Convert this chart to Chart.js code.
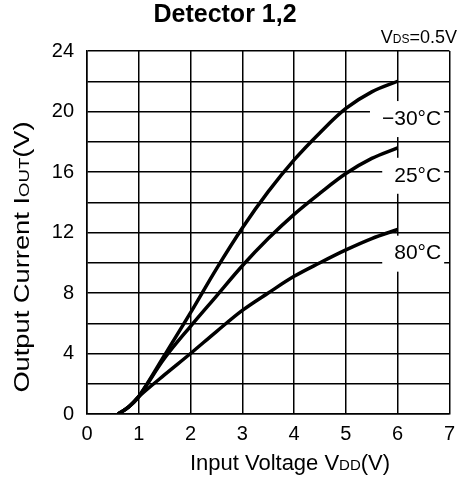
<!DOCTYPE html>
<html>
<head>
<meta charset="utf-8">
<script src="https://cdn.jsdelivr.net/npm/chart.js@4"></script>
<style>
    html, body { margin: 0; padding: 0; background: #fff; }
</style>
</head>
<body>
<canvas id="chart" width="463" height="483"></canvas>
<script>
(function () {
    'use strict';

    // input voltage VDD (V)
    var vdd = [0.6, 0.8, 1.0, 1.5, 2, 2.5, 3, 3.5, 4, 4.5, 5, 5.5, 6];
    // output current per temperature
    var iMinus30 = [0, 0.45, 1.15, 3.9, 6.7, 9.6, 12.3, 14.7, 16.8, 18.6, 20.2, 21.3, 22.0];
    var i25 = [0, 0.45, 1.15, 3.7, 5.8, 7.8, 9.8, 11.6, 13.2, 14.6, 15.9, 16.9, 17.6];
    var i80 = [0, 0.45, 1.15, 2.6, 4.0, 5.45, 6.85, 8.0, 9.1, 10.0, 10.85, 11.6, 12.2];

    var curveNames = ['\u221230\u00b0C', '25\u00b0C', '80\u00b0C'];
    var curveValues = [iMinus30, i25, i80];
    var xTicks = [0, 1, 2, 3, 4, 5, 6, 7];
    var yTicks = [0, 4, 8, 12, 16, 20, 24];

    // where each temperature label sits (right edge x, middle y), in axis units
    var labelAnchors = [[6.84, 19.5], [6.84, 15.75], [6.84, 10.6]];

    var FONT = "'Liberation Sans', Arial, sans-serif";

    function points(ys) {
        return vdd.map(function (x, i) {
            return { x: x, y: ys[i] };
        });
    }

    function drawRich(ctx, parts, x, y, align) {
        var total = 0;
        parts.forEach(function (p) {
            ctx.font = p.size + 'px ' + FONT;
            p.w = ctx.measureText(p.t).width;
            total += p.w;
        });
        var cx = x;
        if (align === 'center') cx = x - total / 2;
        if (align === 'right') cx = x - total;
        ctx.textAlign = 'left';
        parts.forEach(function (p) {
            ctx.font = p.size + 'px ' + FONT;
            ctx.fillText(p.t, cx, y);
            cx += p.w;
        });
    }

    var labelBoxes = {
        id: 'labelBoxes',
        beforeDatasetsDraw: function (chart) {
            var ctx = chart.ctx;
            var xs = chart.scales.x;
            var ys = chart.scales.y;
            ctx.save();
            ctx.font = '21px ' + FONT;
            curveNames.forEach(function (name, i) {
                var right = xs.getPixelForValue(labelAnchors[i][0]);
                var mid = ys.getPixelForValue(labelAnchors[i][1]);
                var w = ctx.measureText(name).width;
                ctx.fillStyle = '#fff';
                ctx.fillRect(right - w - 12, mid - 18, w + 15, 36);
            });
            ctx.restore();
        },
        afterDatasetsDraw: function (chart) {
            var ctx = chart.ctx;
            var xs = chart.scales.x;
            var ys = chart.scales.y;
            ctx.save();
            ctx.fillStyle = '#000';
            ctx.font = '21px ' + FONT;
            ctx.textAlign = 'right';
            ctx.textBaseline = 'middle';
            curveNames.forEach(function (name, i) {
                ctx.fillText(name, xs.getPixelForValue(labelAnchors[i][0]), ys.getPixelForValue(labelAnchors[i][1]));
            });
            ctx.restore();
        }
    };

    var texts = {
        id: 'texts',
        afterDraw: function (chart) {
            var ctx = chart.ctx;
            ctx.save();
            ctx.fillStyle = '#000';
            ctx.textBaseline = 'alphabetic';

            ctx.font = 'bold 25px ' + FONT;
            ctx.textAlign = 'center';
            ctx.fillText('Detector 1,2', 225, 22);

            drawRich(ctx, [
                { t: 'V', size: 18 }, { t: 'DS', size: 12 }, { t: '=0.5V', size: 18 }
            ], 457, 43, 'right');

            drawRich(ctx, [
                { t: 'Input Voltage V', size: 22 }, { t: 'DD', size: 15 }, { t: '(V)', size: 22 }
            ], 290, 470, 'center');

            ctx.translate(29, 257);
            ctx.rotate(-Math.PI / 2);
            ctx.scale(1.24, 1);
            drawRich(ctx, [
                { t: 'Output Current I', size: 22 }, { t: 'OUT', size: 15 }, { t: '(V)', size: 22 }
            ], 0, 0, 'center');
            ctx.restore();
        }
    };

    var datasets = curveValues.map(function (ys, i) {
        return {
            label: curveNames[i],
            data: points(ys),
            showLine: true,
            borderColor: '#000',
            borderWidth: 3.5,
            pointRadius: 0,
            fill: false,
            tension: 0.35
        };
    });

    new Chart(document.getElementById('chart'), {
        type: 'scatter',
        data: { datasets: datasets },
        options: {
            responsive: false,
            animation: false,
            layout: { padding: { top: 51, right: 7, left: 0, bottom: 0 } },
            plugins: {
                legend: { display: false },
                tooltip: { enabled: false }
            },
            scales: {
                x: {
                    type: 'linear',
                    min: xTicks[0],
                    max: xTicks[xTicks.length - 1],
                    afterFit: function (s) { s.height = 69; },
                    afterBuildTicks: function (s) {
                        s.ticks = xTicks.map(function (v) { return { value: v }; });
                    },
                    ticks: {
                        color: '#000',
                        padding: 8,
                        font: { family: FONT, size: 20 }
                    },
                    grid: { color: '#000', lineWidth: 1.5, drawTicks: false },
                    border: { color: '#000', width: 1.5 }
                },
                y: {
                    type: 'linear',
                    min: yTicks[0],
                    max: yTicks[yTicks.length - 1],
                    afterFit: function (s) { s.width = 87; },
                    ticks: {
                        stepSize: 2,
                        color: '#000',
                        padding: 13,
                        font: { family: FONT, size: 20 },
                        callback: function (v) {
                            return yTicks.indexOf(v) >= 0 ? v : '';
                        }
                    },
                    grid: { color: '#000', lineWidth: 1.5, drawTicks: false },
                    border: { color: '#000', width: 1.5 }
                }
            }
        },
        plugins: [labelBoxes, texts]
    });
})();
</script>
</body>
</html>
